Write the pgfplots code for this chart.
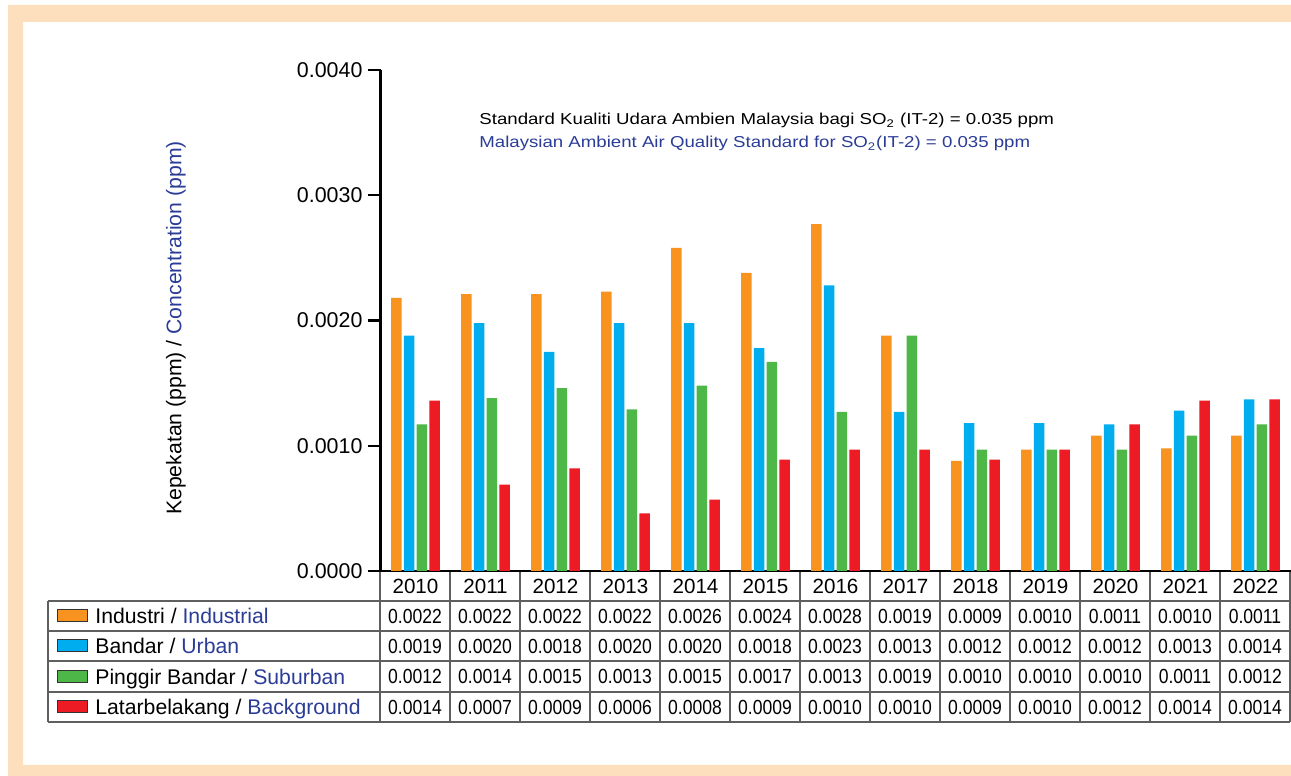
\documentclass[border=0pt]{standalone}
\usepackage{pgfplots}
\pgfplotsset{compat=1.18}
\usepackage{pgfplotstable}
\usepackage{fontspec}
\setmainfont{Liberation Sans}
\newfontfamily\narrowfont[FakeStretch=0.86]{Liberation Sans}
\newfontfamily\widefont[FakeStretch=1.18]{Liberation Sans}
\definecolor{peach}{RGB}{253,223,189}
\definecolor{cOrange}{RGB}{247,147,30}
\definecolor{cBlue}{RGB}{0,174,239}
\definecolor{cGreen}{RGB}{77,184,72}
\definecolor{cRed}{RGB}{237,28,36}
\definecolor{tBlue}{RGB}{43,60,150}
\definecolor{gridc}{RGB}{95,95,95}

\pgfplotstableread{
x ind urb sub bg
0  0.00218 0.00188 0.00117 0.00136
1  0.00221 0.00198 0.00138 0.00069
2  0.00221 0.00175 0.00146 0.00082
3  0.00223 0.00198 0.00129 0.00046
4  0.00258 0.00198 0.00148 0.00057
5  0.00238 0.00178 0.00167 0.00089
6  0.00277 0.00228 0.00127 0.00097
7  0.00188 0.00127 0.00188 0.00097
8  0.00088 0.00118 0.00097 0.00089
9  0.00097 0.00118 0.00097 0.00097
10 0.00108 0.00117 0.00097 0.00117
11 0.00098 0.00128 0.00108 0.00136
12 0.00108 0.00137 0.00117 0.00137
}\bars

\begin{document}
\begin{tikzpicture}
\path[use as bounding box] (0,0) rectangle (645.5pt,388pt);
\begin{scope}[x=0.5pt,y=-0.5pt,yshift=388pt]
  \begin{scope}
  \clip (0,0) rectangle (1291,776);
  \fill[peach,even odd rule] (8,5) rectangle (1300,790) (23,22) rectangle (1300,765);
  \end{scope}
\end{scope}

\begin{axis}[
  at={(190.25pt,102.5pt)}, anchor=south west,
  scale only axis, width=455pt, height=250.5pt,
  xmin=-0.5, xmax=12.5, ymin=0, ymax=0.004,
  axis x line=bottom, axis y line=left,
  axis line style={-, line width=1.1pt, black},
  ybar=1.1pt, bar width=5.25pt,
  xtick={0,...,12},
  xticklabels={2010,2011,2012,2013,2014,2015,2016,2017,2018,2019,2020,2021,2022},
  xtick style={draw=none},
  xticklabel style={anchor=center, yshift=-7.5pt, font=\fontsize{10.3}{12}\selectfont},
  ytick={0,0.001,0.002,0.003,0.004},
  yticklabels={0.0000,0.0010,0.0020,0.0030,0.0040},
  scaled y ticks=false,
  ytick align=outside, xtick align=inside,
  major tick length=6.5pt,
  ytick style={line width=1.1pt, black},
  yticklabel style={font=\fontsize{10.7}{12}\selectfont, xshift=1pt},
  /pgf/number format/assume math mode=true,
  clip=false,
]
\addplot[fill=cOrange, draw=none] table[x=x,y=ind]{\bars};
\addplot[fill=cBlue, draw=none] table[x=x,y=urb]{\bars};
\addplot[fill=cGreen, draw=none] table[x=x,y=sub]{\bars};
\addplot[fill=cRed, draw=none] table[x=x,y=bg]{\bars};
\end{axis}

\begin{scope}[x=0.5pt,y=-0.5pt,yshift=388pt]
  % y label
  \node[rotate=90, font=\fontsize{10.6}{12}\selectfont] at (176,328)
    {Kepekatan (ppm) / \textcolor{tBlue}{Concentration (ppm)}};
  % standard note
  \node[anchor=base west, inner sep=0, font=\widefont\fontsize{7.9}{10}\selectfont] at (479,125)
    {Standard Kualiti Udara Ambien Malaysia bagi SO\textsubscript{2} (IT-2) = 0.035 ppm};
  \node[anchor=base west, inner sep=0, font=\widefont\fontsize{7.9}{10}\selectfont, text=tBlue] at (479,148)
    {Malaysian Ambient Air Quality Standard for SO\textsubscript{2}(IT-2) = 0.035 ppm};
  % table grid
  \foreach \yy in {601,631,661,692,722} \draw[gridc, line width=0.9pt] (48,\yy) -- (1290,\yy);
  \draw[gridc, line width=0.9pt] (48,601) -- (48,722);
  \foreach \k in {0,...,13} \draw[gridc, line width=0.9pt] ({380+70*\k},572) -- ({380+70*\k},722);
  % legend rows
  \foreach \c/\yy/\a/\b in {cOrange/616/Industri/Industrial, cBlue/646/Bandar/Urban, cGreen/676.5/Pinggir Bandar/Suburban, cRed/707/Latarbelakang/Background}{
    \fill[\c, draw=black!80, line width=0.5pt] (57,\yy-6) rectangle (87,\yy+6);
    \node[anchor=base west, inner sep=0, font=\fontsize{10.6}{12}\selectfont] at (95,\yy+8) {\a{} / \textcolor{tBlue}{\b}};
  }
  % values
  \foreach \v [count=\i from 0] in {0.0022,0.0022,0.0022,0.0022,0.0026,0.0024,0.0028,0.0019,0.0009,0.0010,0.0011,0.0010,0.0011}
    \node[font=\narrowfont\fontsize{10.2}{12}\selectfont] at ({415+70*\i},616) {\v};
  \foreach \v [count=\i from 0] in {0.0019,0.0020,0.0018,0.0020,0.0020,0.0018,0.0023,0.0013,0.0012,0.0012,0.0012,0.0013,0.0014}
    \node[font=\narrowfont\fontsize{10.2}{12}\selectfont] at ({415+70*\i},646) {\v};
  \foreach \v [count=\i from 0] in {0.0012,0.0014,0.0015,0.0013,0.0015,0.0017,0.0013,0.0019,0.0010,0.0010,0.0010,0.0011,0.0012}
    \node[font=\narrowfont\fontsize{10.2}{12}\selectfont] at ({415+70*\i},676.5) {\v};
  \foreach \v [count=\i from 0] in {0.0014,0.0007,0.0009,0.0006,0.0008,0.0009,0.0010,0.0010,0.0009,0.0010,0.0012,0.0014,0.0014}
    \node[font=\narrowfont\fontsize{10.2}{12}\selectfont] at ({415+70*\i},707) {\v};
\end{scope}
\end{tikzpicture}
\end{document}
